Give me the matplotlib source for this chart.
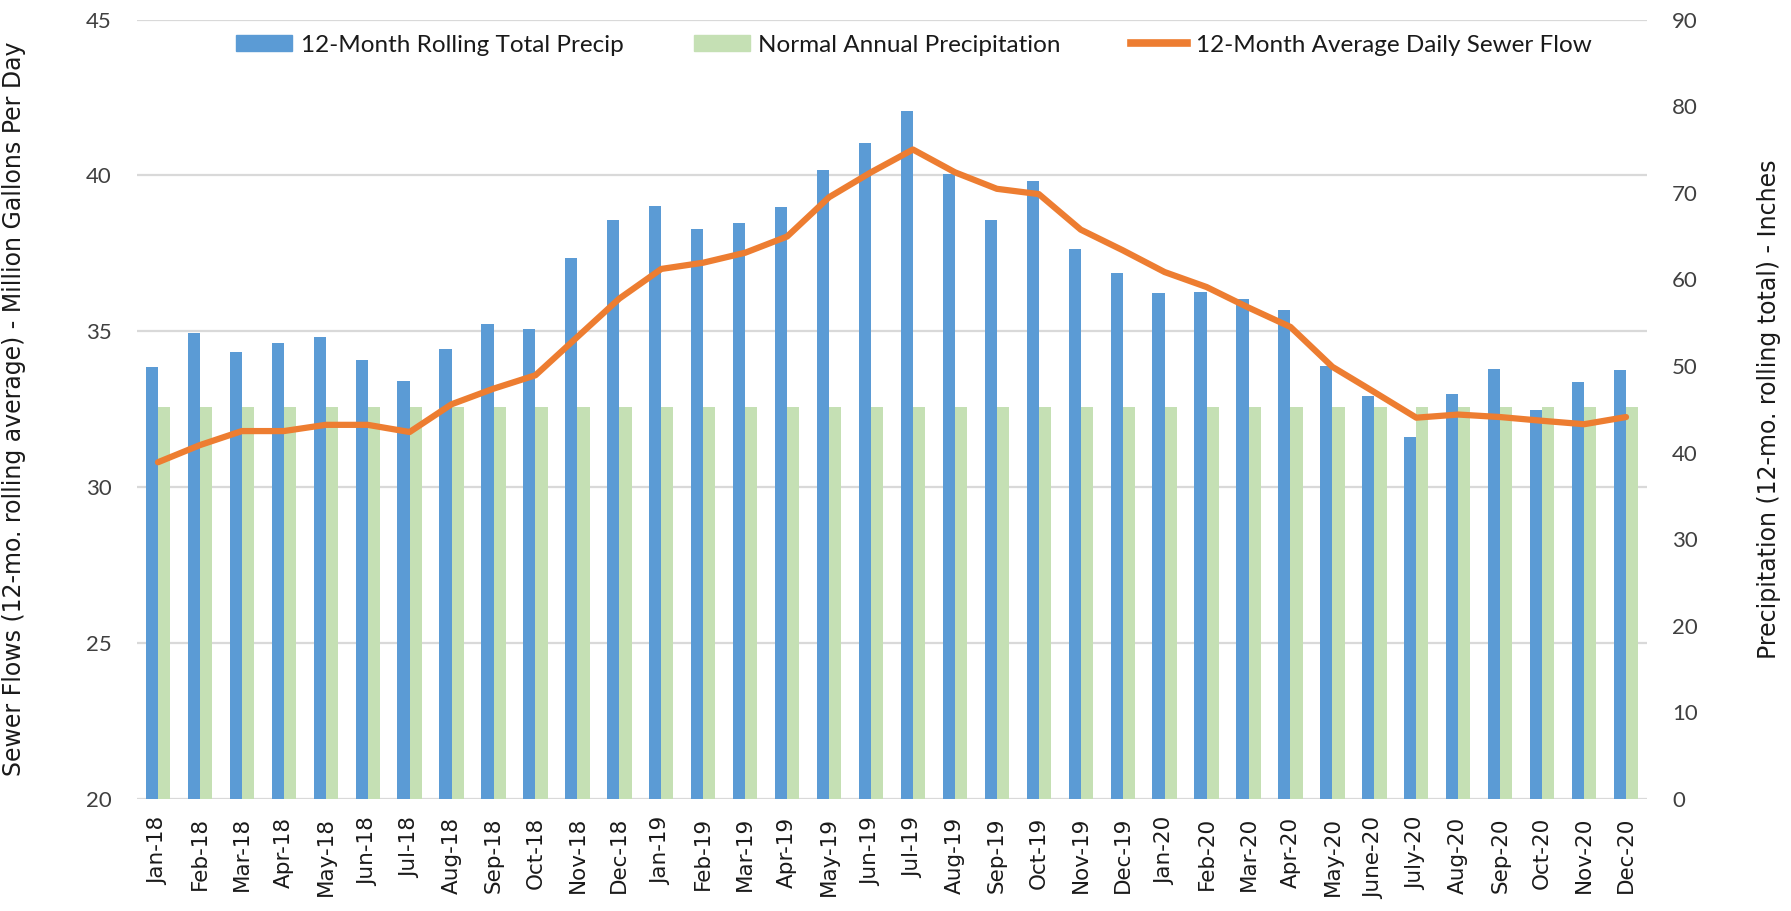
import matplotlib
matplotlib.use("Agg")
import matplotlib.pyplot as plt
from matplotlib.patches import Patch
from matplotlib.lines import Line2D
import numpy as np

months = ["Jan-18", "Feb-18", "Mar-18", "Apr-18", "May-18", "Jun-18", "Jul-18", "Aug-18",
          "Sep-18", "Oct-18", "Nov-18", "Dec-18", "Jan-19", "Feb-19", "Mar-19", "Apr-19",
          "May-19", "Jun-19", "Jul-19", "Aug-19", "Sep-19", "Oct-19", "Nov-19", "Dec-19",
          "Jan-20", "Feb-20", "Mar-20", "Apr-20", "May-20", "June-20", "July-20", "Aug-20",
          "Sep-20", "Oct-20", "Nov-20", "Dec-20"]

rolling_precip = [49.9, 53.8, 51.6, 52.6, 53.3, 50.7, 48.3, 51.9, 54.8, 54.3, 62.5, 66.8,
                  68.5, 65.8, 66.5, 68.3, 72.6, 75.7, 79.4, 72.2, 66.8, 71.4, 63.5, 60.7,
                  58.4, 58.5, 57.7, 56.5, 50.0, 46.5, 41.8, 46.8, 49.7, 44.9, 48.2, 49.5]

normal_precip = [45.3] * 36

sewer_flow = [30.8, 31.35, 31.8, 31.8, 32.0, 32.0, 31.77, 32.66, 33.16, 33.59, 34.82, 36.05,
              37.0, 37.2, 37.52, 38.04, 39.3, 40.1, 40.83, 40.1, 39.57, 39.4, 38.26, 37.6,
              36.9, 36.42, 35.76, 35.14, 33.86, 33.05, 32.23, 32.33, 32.25, 32.13, 32.02, 32.25]

left_ticks = [20, 25, 30, 35, 40, 45]
right_ticks = [0, 10, 20, 30, 40, 50, 60, 70, 80, 90]

BLUE = "#5B9BD5"
GREEN = "#C5E0B4"
ORANGE = "#ED7D31"
GRID = "#D9D9D9"
TICKC = "#404040"

W, H = 1791, 911
fig = plt.figure(figsize=(W / 100, H / 100), dpi=100)
rect = [137 / W, 1 - 799 / H, 1510 / W, 779.5 / H]
ax = fig.add_axes(rect)
ax2 = ax.twinx()
ax3 = fig.add_axes(rect, sharex=ax, sharey=ax)
ax3.axis("off")
ax3.patch.set_visible(False)

x = np.arange(len(months))
bw = 0.29

# left axis with grid
ax.set_ylim(20, 45)
ax.set_yticks(left_ticks)
ax.grid(axis="y", color=GRID, linewidth=1.6)
ax.set_axisbelow(True)
for s in ax.spines.values():
    s.set_visible(False)
for s in ax2.spines.values():
    s.set_visible(False)
ax.tick_params(axis="y", length=0, pad=18, labelsize=16, labelcolor=TICKC)
for lab in ax.get_yticklabels():
    lab.set_family(["Lato", "DejaVu Sans"])

# bars on right axis
ax2.bar(x - bw / 2, rolling_precip, width=bw, color=BLUE, zorder=2)
ax2.bar(x + bw / 2, normal_precip, width=bw, color=GREEN, zorder=2)
ax2.set_ylim(0, 90)
ax2.set_yticks(right_ticks)
ax2.tick_params(axis="y", length=0, pad=18, labelsize=16, labelcolor=TICKC)
for lab in ax2.get_yticklabels():
    lab.set_family(["Lato", "DejaVu Sans"])

# line on overlay axes
ax3.plot(x, sewer_flow, color=ORANGE, linewidth=4.5, solid_joinstyle="round", solid_capstyle="round")

ax.set_xlim(-0.5, len(months) - 0.5)
ax.set_xticks(x)
ax.set_xticklabels(months, rotation=90, fontsize=15.5, family="DejaVu Sans", color="#1a1a1a")
ax.tick_params(axis="x", length=0, pad=13)

ax.set_ylabel("Sewer Flows (12-mo. rolling average) - Million Gallons Per Day",
              fontsize=17, family="DejaVu Sans", color="#1a1a1a")
ax.yaxis.set_label_coords(-(137 - 26) / 1510, 0.5)
ax2.set_ylabel("Precipitation (12-mo. rolling total) - Inches",
               fontsize=17, family="DejaVu Sans", color="#1a1a1a", rotation=90)
ax2.yaxis.set_label_coords(1 + (1757 - 1647) / 1510, 0.5)

handles = [Patch(color=BLUE), Patch(color=GREEN), Line2D([0], [0], color=ORANGE, linewidth=5.5)]
labels = ["12-Month Rolling Total Precip", "Normal Annual Precipitation",
          "12-Month Average Daily Sewer Flow"]
leg = ax3.legend(handles, labels, loc="center", bbox_to_anchor=((914 - 137) / 1510, 1 - (45 - 19.5) / 779.5),
                 ncol=3, frameon=False, prop={"family": ["Lato", "DejaVu Sans"], "size": 17.5},
                 handlelength=2.3, handleheight=0.65, handletextpad=0.35, columnspacing=2.9)
for t in leg.get_texts():
    t.set_color("#1a1a1a")

fig.savefig("out.png", dpi=100)
